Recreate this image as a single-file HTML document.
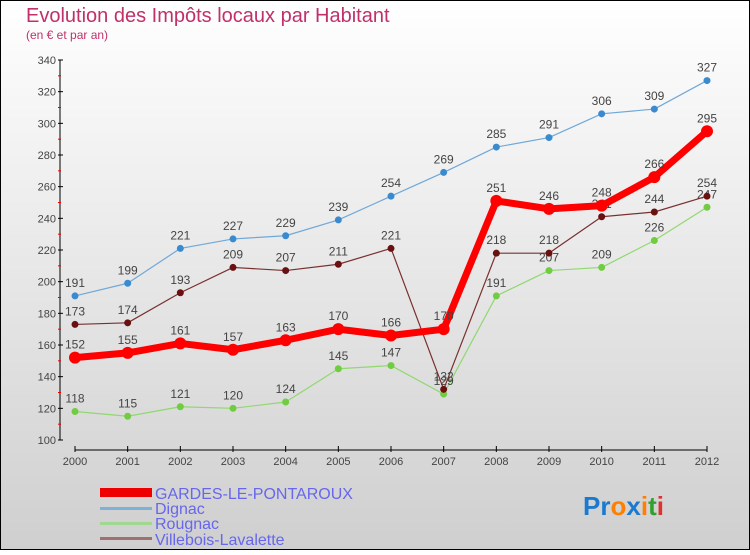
<!DOCTYPE html>
<html><head><meta charset="utf-8"><style>
body{margin:0;}
svg text{font-family:"Liberation Sans",sans-serif;}
</style></head><body>
<svg width="750" height="550" xmlns="http://www.w3.org/2000/svg">
<defs><linearGradient id="bg" x1="0" y1="0" x2="0" y2="1"><stop offset="0" stop-color="#ffffff"/><stop offset="1" stop-color="#cfcfcf"/></linearGradient></defs>
<rect x="0.5" y="0.5" width="749" height="549" fill="url(#bg)" stroke="#000"/>
<text x="26" y="22" font-size="20" fill="#c0306a">Evolution des Impôts locaux par Habitant</text>
<text x="26" y="39" font-size="12" fill="#c0306a">(en € et par an)</text>
<g id="axes"></g>
<g id="series"></g>
<g id="legend">
<rect x="100" y="488" width="52" height="9" fill="#e00"/>
<text x="155" y="499" font-size="16" fill="#6666ee">GARDES-LE-PONTAROUX</text>
<rect x="100" y="507" width="52" height="3" fill="#7fb0d8"/>
<text x="155" y="514" font-size="16" fill="#6666ee">Dignac</text>
<rect x="100" y="522" width="52" height="3" fill="#a0d890"/>
<text x="155" y="529" font-size="16" fill="#6666ee">Rougnac</text>
<rect x="100" y="537" width="52" height="3" fill="#a07070"/>
<text x="155" y="545" font-size="16" fill="#6666ee">Villebois-Lavalette</text>
</g>
<g font-size="26" font-weight="bold">
<text x="583" y="515"><tspan fill="#1a7ad0">Pr</tspan><tspan fill="#ff8000">o</tspan><tspan fill="#1a7ad0">x</tspan><tspan fill="#ff8000">i</tspan><tspan fill="#30a030">t</tspan><tspan fill="#e03030">i</tspan></text>
</g>
</svg>
<script>
const years=[2000,2001,2002,2003,2004,2005,2006,2007,2008,2009,2010,2011,2012];
const yTicks=[100,120,140,160,180,200,220,240,260,280,300,320,340];
const gardes=[152,155,161,157,163,170,166,170,251,246,248,266,295];
const dignac=[191,199,221,227,229,239,254,269,285,291,306,309,327];
const rougnac=[118,115,121,120,124,145,147,129,191,207,209,226,247];
const villebois=[173,174,193,209,207,211,221,132,218,218,241,244,254];
const NS="http://www.w3.org/2000/svg";
const X=i=>75+i*(707-75)/12;
const Y=v=>440-(v-100)*(380/240);
function mk(tag,attrs,parent){const e=document.createElementNS(NS,tag);for(const k in attrs)e.setAttribute(k,attrs[k]);parent.appendChild(e);return e;}
const axes=document.getElementById('axes');
const ya=mk('line',{x1:60,y1:60,x2:60,y2:440,stroke:'#000','stroke-width':1},axes);


yTicks.forEach((t,i)=>{
 mk('line',{x1:58,y1:Y(t),x2:63,y2:Y(t),stroke:'#000'},axes);
 if(i<yTicks.length-1) mk('line',{x1:58,y1:Y(t+10),x2:61,y2:Y(t+10),stroke:'#e00'},axes);
 const tx=mk('text',{x:56,y:Y(t)+4,'font-size':11,'text-anchor':'end',fill:'#444'},axes);
 tx.textContent=t;
 
 
});
const xa=mk('line',{x1:75,y1:450,x2:707,y2:450,stroke:'#000','stroke-width':1},axes);


years.forEach((yr,i)=>{
 mk('line',{x1:X(i),y1:446,x2:X(i),y2:452,stroke:'#000'},axes);
 const tx=mk('text',{x:X(i),y:465,'font-size':11,'text-anchor':'middle',fill:'#444'},axes);
 tx.textContent=yr;
 
 
});
const sg=document.getElementById('series');
function draw(data,color,dot,w,r,name){
 const g=mk('g',{},sg);
 
 
 const pl=mk('polyline',{points:data.map((v,i)=>X(i)+','+Y(v)).join(' '),fill:'none',stroke:color,'stroke-width':w,'stroke-linejoin':'round'},g);
 
 
 data.forEach((v,i)=>{
  const c=mk('circle',{cx:X(i),cy:Y(v),r:r,fill:dot},g);
  
  
  const t=mk('text',{x:X(i),y:Y(v)-9,'font-size':12,'text-anchor':'middle',fill:'#444'},g);
  t.textContent=v;
  
  
 });
}
draw(rougnac,'#90d870','#70cc40',1.2,3.5,'rougnac');
draw(villebois,'#7a3030','#6a1010',1.2,3.5,'villebois');
draw(dignac,'#70a8d8','#3a8ad0',1.2,3.5,'dignac');
draw(gardes,'#ff0000','#ff0000',7,6,'gardes');
</script>
</body></html>
